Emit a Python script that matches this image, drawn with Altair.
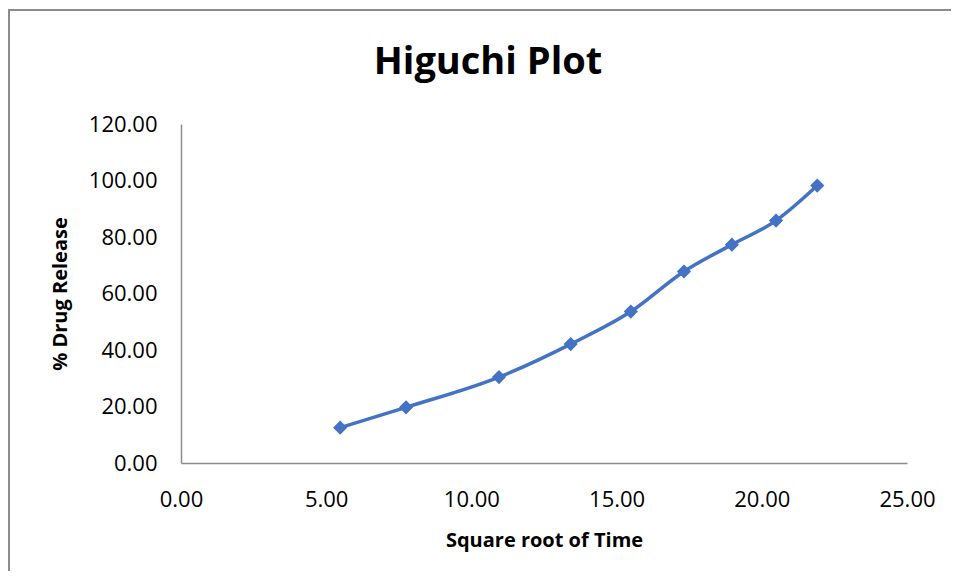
import altair as alt
import pandas as pd

# Data
sqrt_time = [5.48, 7.75, 10.95, 13.42, 15.49, 17.32, 18.97, 20.49, 21.91]
drug_release = [12.5, 19.7, 30.4, 42.1, 53.6, 67.8, 77.3, 85.8, 98.2]
x_ticks = [0, 5, 10, 15, 20, 25]
y_ticks = [0, 20, 40, 60, 80, 100, 120]
chart_title = ["Higuchi Plot"]

df = pd.DataFrame({"x": sqrt_time, "y": drug_release})

BLUE = "#4472C4"
FONT = "Open Sans"

x_enc = alt.X(
    "x:Q",
    scale=alt.Scale(domain=[0, 25], nice=False, zero=True),
    axis=alt.Axis(
        values=x_ticks, format=".2f", title="Square root of Time",
        titleX=363, titleY=83, titleAlign="center", titleBaseline="alphabetic",
        labelPadding=26, labelFlush=False,
    ),
)
y_enc = alt.Y(
    "y:Q",
    scale=alt.Scale(domain=[0, 120], nice=False),
    axis=alt.Axis(
        values=y_ticks, format=".2f", title="% Drug Release",
        titleX=-121, titleY=169.5, titleAngle=-90, titleAlign="center",
        titleBaseline="middle", labelPadding=24, labelFlush=False,
    ),
)

base = alt.Chart(df)

line = base.mark_line(color=BLUE, strokeWidth=3.5, interpolate="monotone").encode(
    x=x_enc, y=y_enc
)
points = base.mark_point(shape="diamond", filled=True, size=200, color=BLUE, opacity=1).encode(
    x="x:Q", y="y:Q"
)

border = alt.Chart(pd.DataFrame({"a": [0]})).mark_rect(
    fillOpacity=0, stroke="#8c8c8c", strokeWidth=2
).encode(
    x=alt.value(-172), x2=alt.value(820), y=alt.value(-114), y2=alt.value(500)
)

title = alt.Chart(pd.DataFrame({"t": chart_title})).mark_text(
    font=FONT, fontSize=38, fontWeight="bold", color="#000000",
    align="center", baseline="alphabetic",
).encode(
    text="t:N", x=alt.value(307), y=alt.value(-50)
)

chart = (
    alt.layer(border, line, points, title)
    .properties(
        width=726,
        height=339,
        autosize=alt.AutoSizeParams(type="none"),
        padding={"left": 173, "top": 116, "right": 44, "bottom": 108},
        background="white",
    )
    .configure_view(stroke=None)
    .configure_axis(
        grid=False, ticks=False, tickSize=0,
        domainColor="#8c8c8c", domainWidth=1.5,
        labelFont=FONT, labelFontSize=22, labelColor="#000000",
        titleFont=FONT, titleFontSize=20, titleFontWeight="bold", titleColor="#000000",
    )
)

chart.save("out.html", embed_options={"renderer": "svg", "actions": False})
